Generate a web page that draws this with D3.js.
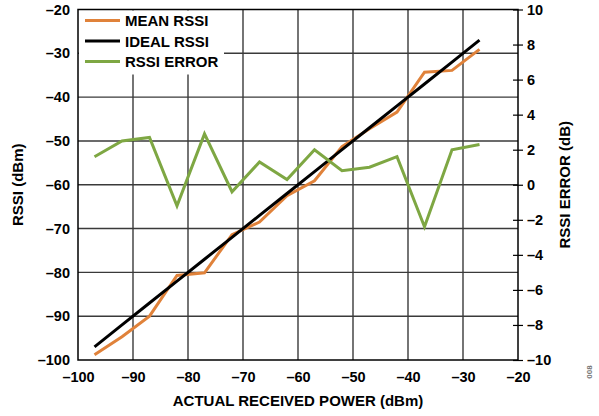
<!DOCTYPE html>
<html>
<head>
<meta charset="utf-8">
<script src="https://cdn.jsdelivr.net/npm/d3@7"></script>
<style>
  body { margin: 0; background: #fff; }
  svg { display: block; }
  text { font-family: "Liberation Sans", Arial, sans-serif; font-weight: bold; }
</style>
</head>
<body>
<svg id="chart" width="599" height="416"></svg>
<script>
// actual received power (dBm), one point every 5 dB
let actualPower = [-97, -92, -87, -82, -77, -72, -67, -62, -57, -52, -47, -42, -37, -32, -27];
let meanRssi = [-98.8, -94.7, -90.0, -80.7, -80.1, -71.4, -68.5, -62.5, -59.1, -51.3, -47.2, -43.4, -34.3, -33.9, -29.1];
let idealRssi = [-97, -92, -87, -82, -77, -72, -67, -62, -57, -52, -47, -42, -37, -32, -27];
let rssiError = [1.6, 2.5, 2.7, -1.2, 2.9, -0.4, 1.3, 0.3, 2.0, 0.8, 1.0, 1.6, -2.4, 2.0, 2.3];

let xTicks = [-100, -90, -80, -70, -60, -50, -40, -30, -20];
let leftTicks = [-20, -30, -40, -50, -60, -70, -80, -90, -100];
let rightTicks = [10, 8, 6, 4, 2, 0, -2, -4, -6, -8, -10];

let legendNames = ["MEAN RSSI", "IDEAL RSSI", "RSSI ERROR"];
let colors = ["#e0823a", "#000000", "#7ea743"];

let margin = {left: 78, right: 81, top: 9.5, bottom: 56};
let svg = d3.select("#chart");
let W = +svg.attr("width"), H = +svg.attr("height");

let x = d3.scaleLinear().domain([-100, -20]).range([margin.left, W - margin.right]);
let yL = d3.scaleLinear().domain([-100, -20]).range([H - margin.bottom, margin.top]);
let yR = d3.scaleLinear().domain([-10, 10]).range([H - margin.bottom, margin.top]);

let minus = s => String(s).replace("-", "\u2013");

// grid
let grid = svg.append("g").attr("stroke", "#3a3a3a").attr("stroke-width", 1.4);
grid.selectAll("line.v").data(xTicks.slice(1, -1)).enter().append("line")
  .attr("x1", d => x(d)).attr("x2", d => x(d))
  .attr("y1", yL(-20)).attr("y2", yL(-100));
grid.selectAll("line.h").data(leftTicks.slice(1, -1)).enter().append("line")
  .attr("x1", x(-100)).attr("x2", x(-20))
  .attr("y1", d => yL(d)).attr("y2", d => yL(d));

// legend box hides the grid behind it
svg.append("rect").attr("x", x(-100) + 1).attr("y", yL(-20) + 1)
  .attr("width", 145).attr("height", 64).attr("fill", "#fff");

// frame
svg.append("rect").attr("x", x(-100)).attr("y", yL(-20))
  .attr("width", x(-20) - x(-100)).attr("height", yL(-100) - yL(-20))
  .attr("fill", "none").attr("stroke", "#000").attr("stroke-width", 1.5);

// axes
let xAxis = svg.append("g").attr("transform", "translate(0," + yL(-100) + ")")
  .call(d3.axisBottom(x).tickValues(xTicks).tickSize(0).tickPadding(12).tickFormat(minus));
let lAxis = svg.append("g").attr("transform", "translate(" + x(-100) + ",0)")
  .call(d3.axisLeft(yL).tickValues(leftTicks).tickSize(0).tickPadding(8).tickFormat(minus));
let rAxis = svg.append("g").attr("transform", "translate(" + x(-20) + ",0)")
  .call(d3.axisRight(yR).tickValues(rightTicks).tickSizeInner(5).tickSizeOuter(0).tickPadding(4).tickFormat(minus));
rAxis.selectAll(".tick line").attr("x1", -5).attr("stroke-width", 1.2);
[xAxis, lAxis, rAxis].forEach(a => {
  a.select(".domain").remove();
  a.selectAll("text").attr("font-size", 14.5).attr("font-family", "Liberation Sans, Arial, sans-serif")
    .attr("font-weight", "bold").attr("fill", "#000");
});

// lines
let line = (ys, yScale) => d3.line()
  .x((d, i) => x(actualPower[i]))
  .y(d => yScale(d))(ys);

let series = [
  {values: meanRssi, scale: yL, color: colors[0]},
  {values: idealRssi, scale: yL, color: colors[1]},
  {values: rssiError, scale: yR, color: colors[2]}
];
svg.append("g").selectAll("path").data(series).enter().append("path")
  .attr("d", d => line(d.values, d.scale))
  .attr("fill", "none").attr("stroke", d => d.color)
  .attr("stroke-width", 3).attr("stroke-linejoin", "miter");

// legend
let leg = svg.append("g").selectAll("g").data(legendNames).enter().append("g")
  .attr("transform", (d, i) => "translate(" + (x(-100) + 7) + "," + (yL(-20) + 11 + i * 20.5) + ")");
leg.append("line").attr("x1", 0).attr("x2", 35).attr("y1", 0).attr("y2", 0)
  .attr("stroke", (d, i) => colors[i]).attr("stroke-width", 3);
leg.append("text").attr("x", 40).attr("y", 5.5).attr("font-size", 15).text(d => d);

// axis titles
svg.append("text").attr("x", (x(-100) + x(-20)) / 2).attr("y", 406)
  .attr("text-anchor", "middle").attr("font-size", 15).text("ACTUAL RECEIVED POWER (dBm)");
svg.append("text").attr("transform", "translate(23," + yL(-60) + ") rotate(-90)")
  .attr("text-anchor", "middle").attr("font-size", 15).text("RSSI (dBm)");
svg.append("text").attr("transform", "translate(570," + yL(-60) + ") rotate(-90)")
  .attr("text-anchor", "middle").attr("font-size", 15).text("RSSI ERROR (dB)");

// figure number
svg.append("text").attr("transform", "translate(592,372) rotate(-90)")
  .attr("text-anchor", "middle").attr("font-size", 8).attr("font-weight", "normal")
  .attr("fill", "#777").text("008");
</script>
</body>
</html>
